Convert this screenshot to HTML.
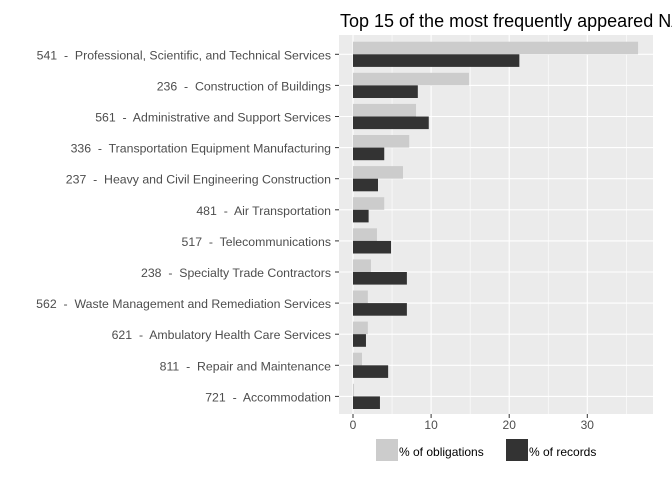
<!DOCTYPE html>
<html><head><meta charset="utf-8"><style>
body{margin:0;background:#fff;width:672px;height:480px;overflow:hidden}
svg{font-family:"Liberation Sans",sans-serif}
</style></head><body>
<svg id="chart" width="672" height="480" xmlns="http://www.w3.org/2000/svg">
<text x="340" y="27" font-size="18" fill="#000">Top 15 of the most frequently appeared NAICS</text>
<rect x="339" y="35" width="314" height="379" fill="#ebebeb"/>
<g id="grid"></g><g id="bars"></g><g id="ylab"></g><g id="xlab"></g>
<g>
<rect x="376" y="439" width="22" height="22" fill="#cccccc"/>
<text x="399" y="456" font-size="12" fill="#000">% of obligations</text>
<rect x="506" y="439" width="22" height="22" fill="#333333"/>
<text x="529" y="456" font-size="12" fill="#000">% of records</text>
</g>
</svg>
<script>
const categories=["541  -  Professional, Scientific, and Technical Services","236  -  Construction of Buildings","561  -  Administrative and Support Services","336  -  Transportation Equipment Manufacturing","237  -  Heavy and Civil Engineering Construction","481  -  Air Transportation","517  -  Telecommunications","238  -  Specialty Trade Contractors","562  -  Waste Management and Remediation Services","621  -  Ambulatory Health Care Services","811  -  Repair and Maintenance","721  -  Accommodation"];
const obligations=[36.5,14.85,8.07,7.2,6.4,4.0,3.07,2.3,1.9,1.9,1.15,0.13];
const records=[21.3,8.3,9.7,4.0,3.2,2.0,4.87,6.9,6.9,1.66,4.5,3.45];
const xTicks=[0,10,20,30];
const NS="http://www.w3.org/2000/svg";
const x=v=>353+v*7.81;
const yc=i=>54.3+i*31.1;
function mk(t,a,p){const e=document.createElementNS(NS,t);for(const k in a)e.setAttribute(k,a[k]);p.appendChild(e);return e;}
const grid=document.getElementById('grid'),bars=document.getElementById('bars'),yl=document.getElementById('ylab'),xl=document.getElementById('xlab');
[5,15,25,35].forEach(v=>{const l=mk('line',{x1:x(v),x2:x(v),y1:35,y2:414,stroke:'#fff','stroke-width':0.6},grid);

});
xTicks.forEach(v=>{const l=mk('line',{x1:x(v),x2:x(v),y1:35,y2:414,stroke:'#fff','stroke-width':1.1},grid);


const tk=mk('line',{x1:x(v),x2:x(v),y1:414,y2:418,stroke:'#333'},xl);


const t=mk('text',{x:x(v),y:429,'font-size':12,fill:'#4d4d4d','text-anchor':'middle'},xl);t.textContent=v;

});
categories.forEach((c,i)=>{const y=yc(i);
const g=mk('line',{x1:339,x2:653,y1:y,y2:y,stroke:'#fff','stroke-width':1.1},grid);


const b1=mk('rect',{x:x(0),y:y-12.6,width:x(obligations[i])-x(0),height:12.6,fill:'#cccccc'},bars);


const b2=mk('rect',{x:x(0),y:y,width:x(records[i])-x(0),height:12.6,fill:'#333333'},bars);


const tk=mk('line',{x1:335,x2:339,y1:y,y2:y,stroke:'#333'},yl);


const t=mk('text',{x:331,y:y+5,'font-size':12.3,fill:'#4d4d4d','text-anchor':'end','xml:space':'preserve'},yl);
t.style.whiteSpace='pre';t.textContent=c;

});
</script>
</body></html>
